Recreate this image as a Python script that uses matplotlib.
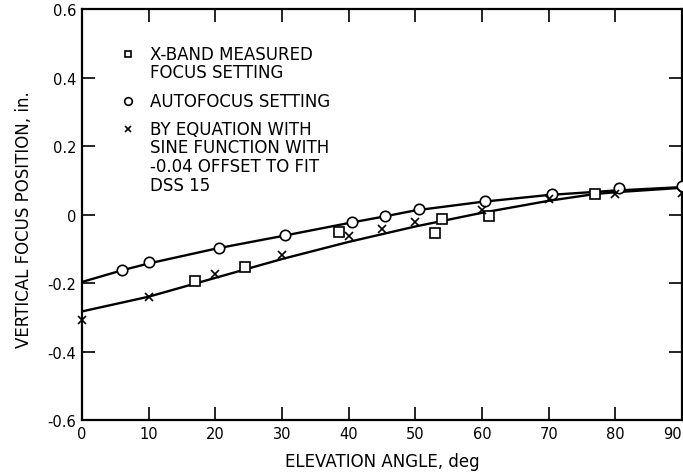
import matplotlib
matplotlib.use("Agg")
import matplotlib.pyplot as plt

plt.rcParams['font.family'] = ['DejaVu Sans']

# X-band measured focus setting (squares)
sq_x = [17, 24.5, 38.5, 53, 54, 61, 77]
sq_y = [-0.193, -0.152, -0.052, -0.054, -0.012, -0.003, 0.060]

# autofocus setting (circles)
ci_x = [6, 10, 20.5, 30.5, 40.5, 45.5, 50.5, 60.5, 70.5, 80.5, 90]
ci_y = [-0.161, -0.139, -0.097, -0.060, -0.021, -0.005, 0.016, 0.039, 0.061, 0.077, 0.082]

# by equation (crosses)
cr_x = [0, 10, 20, 30, 40, 45, 50, 60, 70, 80, 90]
cr_y = [-0.307, -0.240, -0.173, -0.118, -0.064, -0.041, -0.021, 0.012, 0.044, 0.060, 0.063]

# fitted curves drawn through the points
up_x = [0, 6, 10, 20, 30, 40, 45, 50, 60, 70, 80, 90]
up_y = [-0.197, -0.163, -0.143, -0.100, -0.063, -0.025, -0.007, 0.012, 0.037, 0.057, 0.070, 0.080]
lo_x = [0, 10, 20, 30, 40, 50, 60, 70, 77, 80, 90]
lo_y = [-0.283, -0.240, -0.185, -0.130, -0.080, -0.035, 0.005, 0.040, 0.060, 0.065, 0.078]

yticks = [0.6, 0.4, 0.2, 0, -0.2, -0.4, -0.6]
ylabels = ["0.6", "0.4", "0.2", "0", "-0.2", "-0.4", "-0.6"]

fig = plt.figure(figsize=(6.83, 4.77), dpi=100)
ax = fig.add_axes([0.12, 0.1174, 0.8785, 0.8616])

ax.plot(up_x, up_y, color='black', lw=1.7, zorder=2)
ax.plot(lo_x, lo_y, color='black', lw=1.7, zorder=2)
ax.plot(ci_x, ci_y, 'o', ms=7.5, mfc='white', mec='black', mew=1.2, clip_on=False, zorder=3)
ax.plot(sq_x, sq_y, 's', ms=6.5, mfc='white', mec='black', mew=1.2, clip_on=False, zorder=3)
ax.plot(cr_x, cr_y, 'x', ms=6, color='black', mew=1.2, clip_on=False, zorder=3)

ax.set_xlim(0, 90)
ax.set_ylim(-0.6, 0.6)
ax.set_xticks(range(0, 91, 10))
ax.set_yticks(yticks)
ax.set_yticklabels(ylabels)
ax.tick_params(direction='in', length=9.5, width=1.2, labelsize=10.5, pad=4,
               top=True, right=True)
for s in ax.spines.values():
    s.set_linewidth(1.6)
# last x label sits against the right edge
ax.get_xticklabels()[-1].set_ha('right')

ax.set_xlabel("ELEVATION ANGLE, deg", fontsize=12, va='center')
ax.xaxis.set_label_coords(0.5, -0.1)
ax.set_ylabel("VERTICAL FOCUS POSITION, in.", fontsize=12, va='center')
ax.yaxis.set_label_coords(-0.097, 0.49)

# legend drawn by hand
tf = ax.transAxes
ax.plot([0.077], [0.891], 's', ms=5, mfc='white', mec='black', mew=1.2, transform=tf)
ax.plot([0.077], [0.776], 'o', ms=5.5, mfc='white', mec='black', mew=1.2, transform=tf)
ax.plot([0.077], [0.708], 'x', ms=4.5, color='black', mew=1.2, transform=tf)
ax.text(0.113, 0.869, "X-BAND MEASURED\nFOCUS SETTING", transform=tf, fontsize=12,
        va='center', ha='left', linespacing=1.05)
ax.text(0.113, 0.776, "AUTOFOCUS SETTING", transform=tf, fontsize=12, va='center', ha='left')
ax.text(0.113, 0.641, "BY EQUATION WITH\nSINE FUNCTION WITH\n-0.04 OFFSET TO FIT\nDSS 15",
        transform=tf, fontsize=12, va='center', ha='left', linespacing=1.05)

fig.savefig("out.png", dpi=100)
